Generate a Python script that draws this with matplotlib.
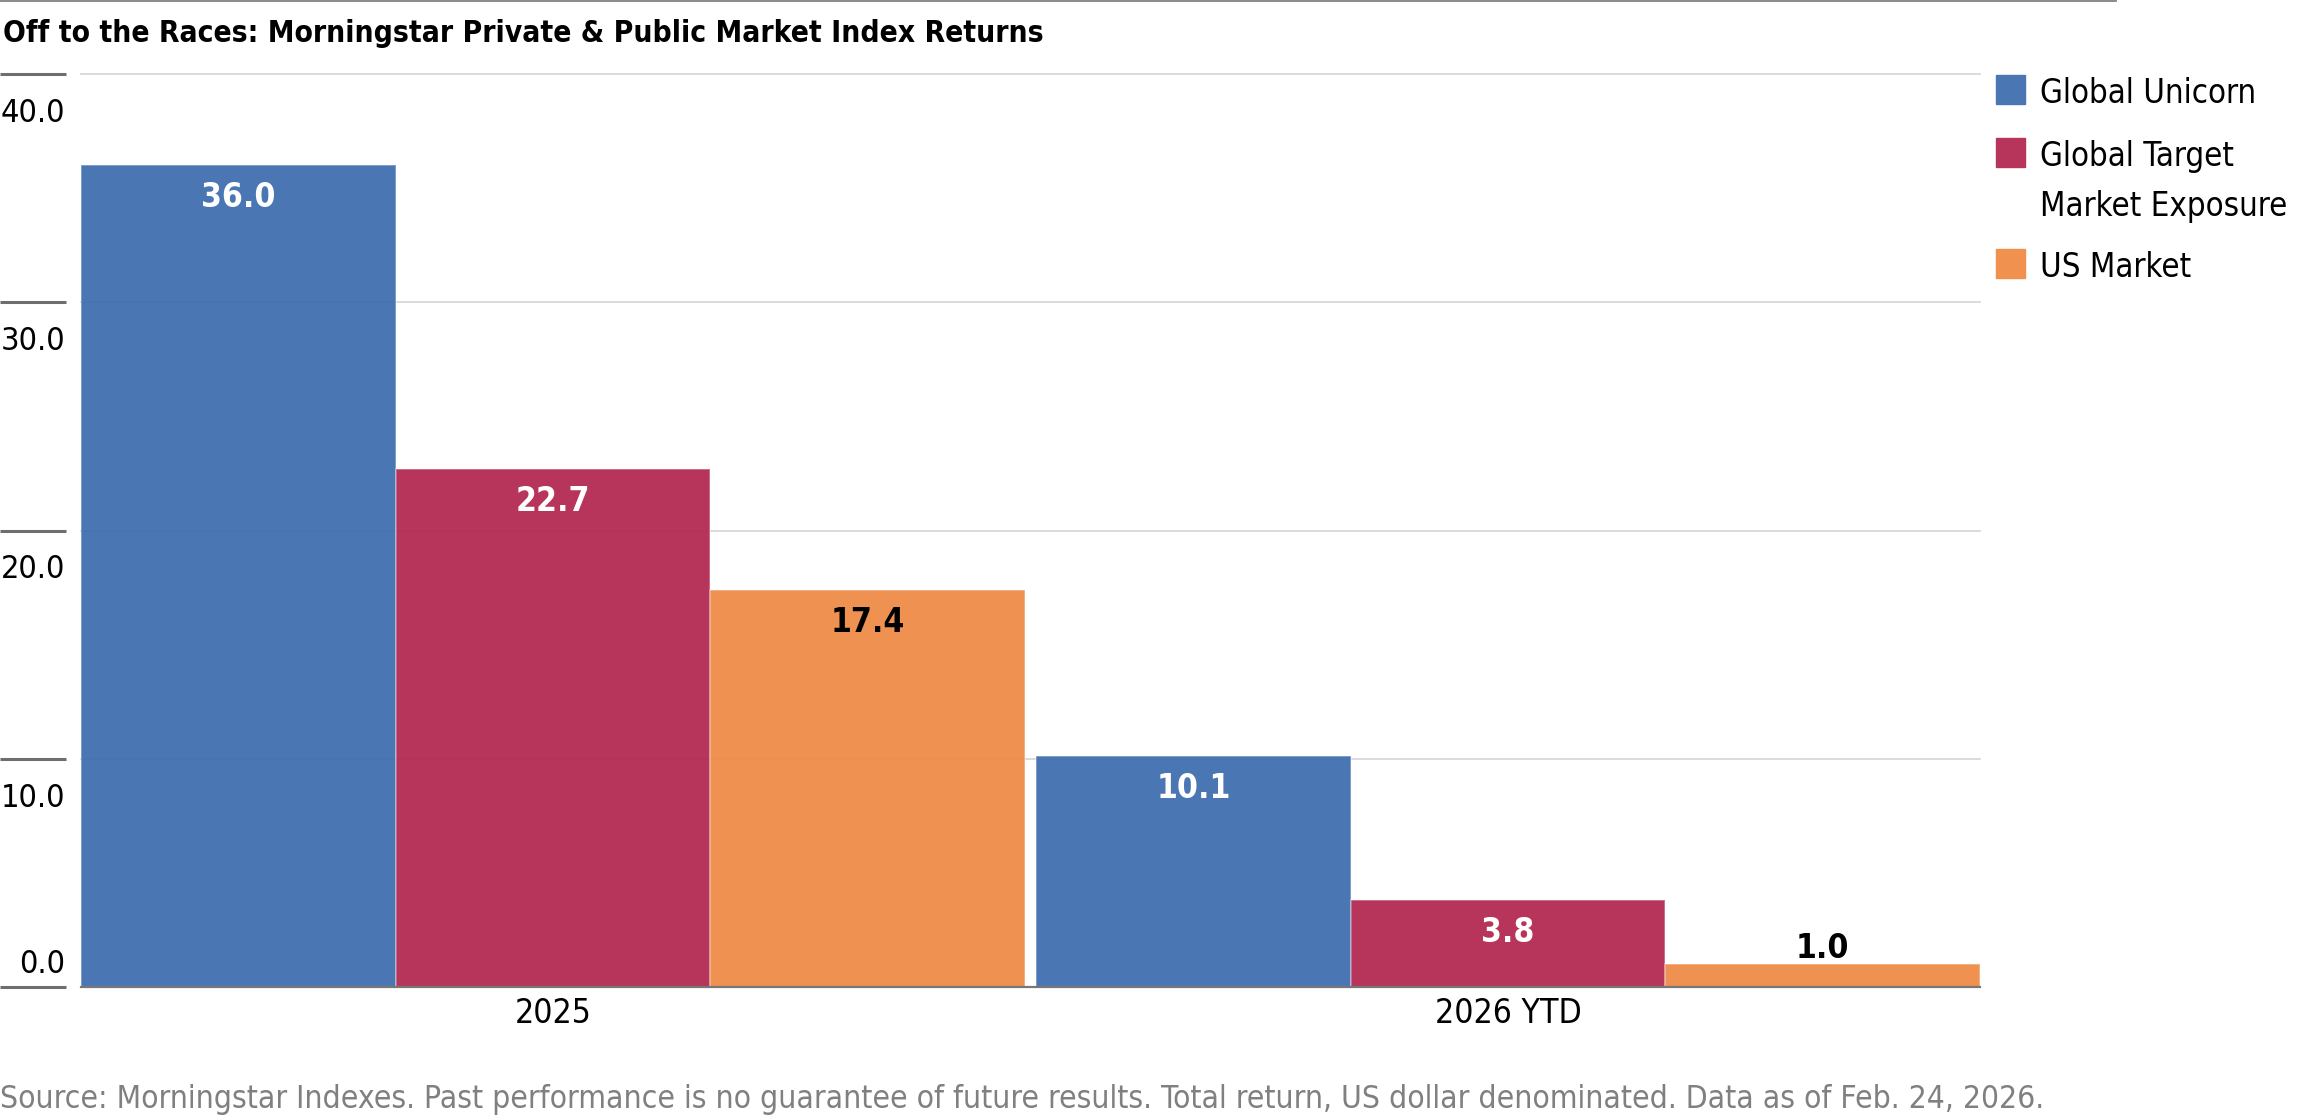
import matplotlib
matplotlib.use('Agg')
import matplotlib.pyplot as plt
from matplotlib import font_manager
from matplotlib.lines import Line2D
from matplotlib.patches import Rectangle
from matplotlib.colors import to_rgb
import numpy as np

# data
categories = ['2025', '2026 YTD']
series = ['Global Unicorn', 'Global Target\nMarket Exposure', 'US Market']
unicorn = [36.0, 10.1]
target_exposure = [22.7, 3.8]
us_market = [17.4, 1.0]
yticks = [0, 10, 20, 30, 40]

title = 'Off to the Races: Morningstar Private & Public Market Index Returns'
source = ('Source: Morningstar Indexes. Past performance is no guarantee of future results. '
          'Total return, US dollar denominated. Data as of Feb. 24, 2026.')

colors = ['#4a77b4', '#b7345a', '#f0914f']
label_colors = ['white', 'white', 'black']

# the original uses a condensed face, pick the closest one we have
fonts = font_manager.fontManager.ttflist
if any(f.name == 'Liberation Sans Narrow' for f in fonts):
    fam, stretch, k = 'Liberation Sans Narrow', 'normal', 1.0
elif any(f.name == 'DejaVu Sans' and f.stretch == 'condensed' for f in fonts):
    fam, stretch, k = 'DejaVu Sans', 'condensed', 0.86
else:
    fam, stretch, k = 'Roboto', 'normal', 0.82
plt.rcParams['font.family'] = [fam, 'DejaVu Sans']
plt.rcParams['font.stretch'] = stretch

W, H = 2300, 1117
PT = 0.72  # points per pixel at dpi 100


def fx(px):
    return px / W


def fy(py):
    return 1 - py / H


def face(c, a=0.95):
    # colour that shows as c over white with alpha a
    r, g, b = to_rgb(c)
    return tuple(min(max((v - (1 - a)) / a, 0), 1) for v in (r, g, b)) + (a,)


fig = plt.figure(figsize=(W / 100, H / 100), dpi=100)
fig.patch.set_facecolor('white')

ax_l, ax_r, ax_t, ax_b = 81, 1980, 74, 987
ax = fig.add_axes([fx(ax_l), fy(ax_b), fx(ax_r) - fx(ax_l), fy(ax_t) - fy(ax_b)])
ax_w = ax_r - ax_l

w = 0.3295
x = np.arange(len(categories))
fs = 27 * k

for i, vals in enumerate([unicorn, target_exposure, us_market]):
    bars = ax.bar(x + (i - 1) * w, vals, w, color=face(colors[i]),
                  edgecolor=(1, 1, 1, 0.35), linewidth=1.2, zorder=2, label=series[i])
    for b, v in zip(bars, vals):
        cx = b.get_x() + b.get_width() / 2
        if v > 2.5:
            ax.annotate(f'{v:.1f}', (cx, v), xytext=(0, -42 * PT), textcoords='offset points',
                        ha='center', va='baseline', color=label_colors[i],
                        fontweight='bold', fontsize=28 * k, zorder=3)
        else:
            ax.annotate(f'{v:.1f}', (cx, v), xytext=(0, 6 * PT), textcoords='offset points',
                        ha='center', va='baseline', color='black',
                        fontweight='bold', fontsize=28 * k, zorder=3)

ax.set_xlim(-1.5 * w, x[-1] + 1.5 * w)
ax.set_ylim(yticks[0], yticks[-1])

# grid, left marks and y labels
ytr = ax.get_yaxis_transform()
for t in yticks:
    if t > 0:
        ax.axhline(t, color='#d4d4d4', lw=1.2, zorder=1, clip_on=False)
    ax.plot([-ax_l / ax_w, -15 / ax_w], [t, t], transform=ytr, color='#6e6e6e',
            lw=2.2, clip_on=False, solid_capstyle='butt')
    off = -48 * PT if t > 0 else 14 * PT
    ax.annotate(f'{t:.1f}', xy=(0, t), xycoords=ytr, xytext=(-16 * PT, off),
                textcoords='offset points', ha='right', va='baseline', fontsize=fs)

ax.set_yticks([])
ax.set_xticks(x, categories)
ax.tick_params(axis='x', length=0, pad=7, labelsize=28 * k)
for s in ['top', 'right', 'left']:
    ax.spines[s].set_visible(False)
ax.spines['bottom'].set_color('#777777')
ax.spines['bottom'].set_linewidth(2.2 * PT)
ax.spines['bottom'].set_zorder(4)

# header rule and title
fig.add_artist(Line2D([0, fx(2116)], [fy(1), fy(1)], color='#808080', lw=1.8 * PT))
fig.text(fx(3), fy(42), title, fontsize=25 * k, fontweight='bold', va='baseline', ha='left')

# legend, drawn by hand so the box sits on the first line of each label
leg_tops = [75, 138, 249]
for i, top in enumerate(leg_tops):
    fig.add_artist(Rectangle((fx(1996), fy(top + 29)), fx(29), 29 / H,
                             color=colors[i], transform=fig.transFigure))
    for j, line in enumerate(series[i].split('\n')):
        fig.text(fx(2040), fy(top + 28 + 50 * j), line, fontsize=27.5 * k,
                 va='baseline', ha='left')

fig.text(fx(0), fy(1108), source, fontsize=26.5 * k, color='#808080', va='baseline', ha='left')

fig.savefig('out.png', dpi=100)
